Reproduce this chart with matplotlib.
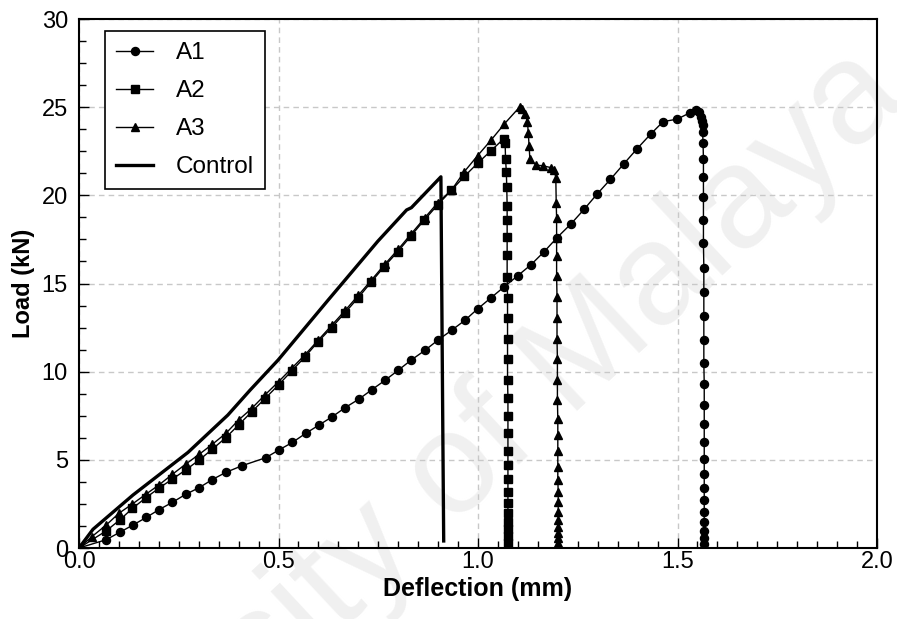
import matplotlib
matplotlib.use("Agg")
import matplotlib.pyplot as plt
from matplotlib.ticker import MultipleLocator

# ---------------- data ----------------
a1_x = [0.0, 0.068, 0.102, 0.135, 0.169, 0.200, 0.234, 0.267, 0.301, 0.334, 0.368,
        0.409, 0.468, 0.501, 0.535, 0.568, 0.602, 0.635, 0.667, 0.702, 0.734, 0.767,
        0.800, 0.832, 0.867, 0.899, 0.934, 0.967, 0.999, 1.033, 1.066, 1.099, 1.133,
        1.166, 1.198, 1.233, 1.266, 1.298, 1.332, 1.366, 1.399, 1.433, 1.464, 1.499,
        1.532, 1.546, 1.554, 1.559, 1.562, 1.563, 1.563, 1.564, 1.565, 1.565, 1.565,
        1.565, 1.565, 1.566, 1.566, 1.566, 1.566, 1.566, 1.567, 1.567, 1.567, 1.567,
        1.567, 1.567, 1.567, 1.567, 1.567, 1.567, 1.567, 1.567, 1.567]
a1_y = [0.0, 0.47, 0.89, 1.30, 1.74, 2.17, 2.59, 3.04, 3.42, 3.88, 4.29,
        4.67, 5.12, 5.56, 5.99, 6.50, 6.98, 7.45, 7.96, 8.45, 8.98, 9.51,
        10.08, 10.65, 11.21, 11.78, 12.35, 12.91, 13.56, 14.20, 14.82, 15.43, 16.07,
        16.81, 17.60, 18.38, 19.21, 20.06, 20.91, 21.80, 22.65, 23.48, 24.18, 24.32,
        24.69, 24.84, 24.73, 24.46, 24.24, 23.98, 23.58, 22.97, 22.08, 21.04, 19.89,
        18.60, 17.28, 15.90, 14.52, 13.14, 11.80, 10.49, 9.28, 8.11, 7.02, 5.99,
        5.05, 4.18, 3.42, 2.70, 2.06, 1.49, 0.98, 0.55, 0.21]

a2_x = [0.0, 0.068, 0.102, 0.134, 0.167, 0.200, 0.234, 0.267, 0.301, 0.334, 0.368,
        0.400, 0.433, 0.466, 0.500, 0.533, 0.566, 0.598, 0.633, 0.667, 0.700, 0.732,
        0.765, 0.799, 0.832, 0.865, 0.899, 0.933, 0.966, 0.999, 1.033, 1.064, 1.068,
        1.069, 1.071, 1.072, 1.073, 1.073, 1.073, 1.073, 1.073, 1.074, 1.074, 1.074,
        1.074, 1.074, 1.075, 1.075, 1.075, 1.075, 1.075, 1.075, 1.075, 1.075, 1.075,
        1.075, 1.075, 1.075, 1.075]
a2_y = [0.0, 0.97, 1.59, 2.25, 2.84, 3.39, 3.91, 4.42, 4.99, 5.60, 6.26,
        6.98, 7.73, 8.47, 9.25, 10.04, 10.83, 11.67, 12.50, 13.35, 14.20, 15.07,
        15.96, 16.81, 17.70, 18.59, 19.46, 20.28, 21.08, 21.82, 22.54, 23.20, 22.95,
        22.06, 21.34, 20.49, 19.42, 18.60, 17.66, 16.62, 15.39, 14.20, 13.02, 11.85,
        10.70, 9.53, 8.49, 7.49, 6.51, 5.50, 4.71, 3.91, 3.19, 2.57, 2.00,
        1.49, 1.06, 0.68, 0.30]

a3_x = [0.0, 0.032, 0.068, 0.100, 0.134, 0.167, 0.200, 0.234, 0.267, 0.301, 0.334,
        0.368, 0.400, 0.433, 0.466, 0.500, 0.533, 0.566, 0.600, 0.633, 0.667, 0.700,
        0.733, 0.766, 0.800, 0.833, 0.866, 0.899, 0.934, 0.966, 0.999, 1.033, 1.066,
        1.104, 1.110, 1.118, 1.124, 1.126, 1.128, 1.130, 1.145, 1.164, 1.183, 1.191,
        1.195, 1.196, 1.197, 1.197, 1.197, 1.197, 1.198, 1.198, 1.198, 1.199, 1.199,
        1.199, 1.200, 1.200, 1.200, 1.200, 1.200, 1.201, 1.201, 1.201, 1.201, 1.201,
        1.201, 1.201, 1.201]
a3_y = [0.0, 0.64, 1.30, 1.97, 2.50, 3.04, 3.57, 4.18, 4.75, 5.31, 5.88,
        6.50, 7.26, 7.92, 8.68, 9.43, 10.19, 10.95, 11.80, 12.62, 13.47, 14.33,
        15.20, 16.08, 16.94, 17.83, 18.71, 19.58, 20.31, 21.35, 22.25, 23.14, 24.05,
        25.00, 24.88, 24.62, 24.18, 23.52, 22.82, 22.06, 21.72, 21.67, 21.57, 21.44,
        21.00, 19.55, 18.73, 17.60, 16.58, 15.45, 14.25, 13.05, 11.85, 10.70, 9.53,
        8.40, 7.30, 6.41, 5.50, 4.58, 3.86, 3.19, 2.63, 2.06, 1.59, 1.21,
        0.87, 0.55, 0.27]

ctrl_x = [0.0, 0.035, 0.135, 0.273, 0.373, 0.429, 0.499, 0.624, 0.749, 0.821, 0.833,
          0.907, 0.909, 0.912, 0.914]
ctrl_y = [0.0, 1.06, 3.00, 5.42, 7.54, 8.96, 10.66, 14.05, 17.40, 19.17, 19.30,
          21.05, 15.0, 6.0, 0.40]

x_ticks = [0.0, 0.5, 1.0, 1.5, 2.0]
x_ticklabels = ["0.0", "0.5", "1.0", "1.5", "2.0"]
y_ticks = [0, 5, 10, 15, 20, 25, 30]
y_ticklabels = ["0", "5", "10", "15", "20", "25", "30"]

# ---------------- figure ----------------
plt.rcParams['font.family'] = ['Liberation Sans', 'DejaVu Sans']
fig = plt.figure(figsize=(8.97, 6.19), dpi=100)
ax = fig.add_axes([0.0881, 0.1147, 0.9777 - 0.0881, 0.9693 - 0.1147])
ax.set_zorder(1)
ax.set_facecolor("none")

# watermark (behind everything)
fig.text(0.455, 0.165, "University of Malaya", fontsize=104, color="#f0f0f0",
         rotation=43, ha="center", va="center", zorder=-5)

lw = 1.0
ax.plot(a1_x, a1_y, color="black", lw=lw, marker="o", ms=5.8, label="A1", zorder=3)
ax.plot(a2_x, a2_y, color="black", lw=lw, marker="s", ms=5.2, label="A2", zorder=3)
ax.plot(a3_x, a3_y, color="black", lw=lw, marker="^", ms=5.8, label="A3", zorder=3)
ax.plot(ctrl_x, ctrl_y, color="black", lw=2.4, label="Control", zorder=3)

ax.set_xlim(0, 2.0)
ax.set_ylim(0, 30)
ax.set_xticks(x_ticks)
ax.set_xticklabels(x_ticklabels)
ax.set_yticks(y_ticks)
ax.set_yticklabels(y_ticklabels)
ax.xaxis.set_minor_locator(MultipleLocator(0.05))
ax.yaxis.set_minor_locator(MultipleLocator(1.25))
ax.tick_params(which="both", direction="in", top=False, right=False,
               labelsize=17, width=1.0)
ax.tick_params(axis="x", which="both", pad=2)
ax.tick_params(axis="y", which="both", pad=8)
ax.tick_params(which="major", length=7)
ax.tick_params(which="minor", length=5)
ax.grid(True, which="major", linestyle=(0, (4, 3)), color="#c8c8c8", lw=1.0)
ax.set_axisbelow(True)
for s in ax.spines.values():
    s.set_linewidth(1.5)

ax.set_xlabel("Deflection (mm)", fontsize=18, fontweight="bold", labelpad=3)
ax.set_ylabel("Load (kN)", fontsize=17, fontweight="bold", labelpad=5)

leg = ax.legend(loc="upper left", bbox_to_anchor=(0.033, 0.977), fontsize=17.5,
                frameon=True, fancybox=False, edgecolor="black", framealpha=1,
                handlelength=1.5, handletextpad=0.95, labelspacing=0.66,
                borderpad=0.45, borderaxespad=0)
leg.get_frame().set_linewidth(1.2)

fig.savefig("out.png", dpi=100)
